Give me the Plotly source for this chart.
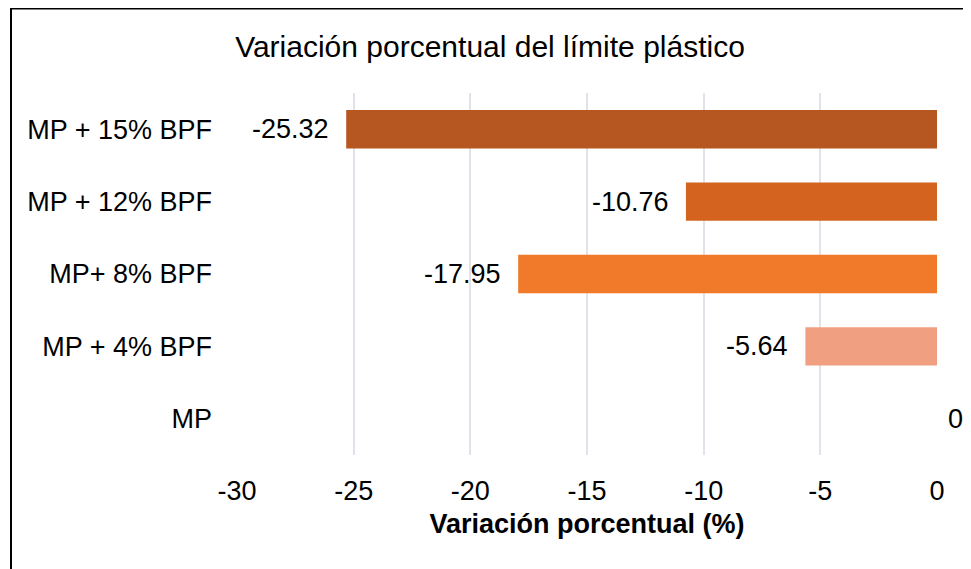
import plotly.graph_objects as go

# data (bottom to top)
mezclas = ["MP", "MP + 4% BPF", "MP+ 8% BPF", "MP + 12% BPF", "MP + 15% BPF"]
variacion = [0, -5.64, -17.95, -10.76, -25.32]
colores = ["#F0A080", "#F0A080", "#F07A2A", "#D3631F", "#B65620"]
ticks_x = [-30, -25, -20, -15, -10, -5, 0]

# page body adds an 8px margin, so figure coords = screenshot coords - 8
W, H = 963, 561
L, R, T, B = 229, 34, 85, 114
FONT = "Liberation Sans, Arial, sans-serif"

fig = go.Figure()

fig.add_trace(go.Bar(
    x=variacion,
    y=mezclas,
    orientation="h",
    marker=dict(color=colores, line=dict(width=0)),
    showlegend=False,
    hoverinfo="x+y",
))

# data labels
for m, v in zip(mezclas, variacion):
    neg = v < 0
    fig.add_annotation(
        x=v, y=m, xref="x", yref="y",
        text=f"{v:g}" if v == 0 else f"{v:.2f}",
        showarrow=False,
        xanchor="right" if neg else "left",
        xshift=-15 if neg else 9,
        font=dict(family=FONT, size=27, color="#000000"),
    )

# chart border (Excel chart area, cropped)
pw, ph = W - L - R, H - T - B
fig.add_shape(
    type="rect", xref="paper", yref="paper",
    x0=(3 - L) / pw, x1=3,
    y0=-3, y1=(H - B - 0.5) / ph,
    line=dict(color="#000000", width=2),
    fillcolor="rgba(0,0,0,0)",
    layer="above",
)

fig.update_layout(
    width=W, height=H,
    margin=dict(l=L, r=R, t=T, b=B, autoexpand=False),
    paper_bgcolor="white",
    plot_bgcolor="white",
    bargap=0.47,
    title=dict(
        text="Variación porcentual del límite plástico",
        x=482 / W, xanchor="center", xref="container",
        y=1 - 38 / H, yanchor="middle", yref="container",
        font=dict(family=FONT, size=30, color="#000000"),
    ),
    xaxis=dict(
        range=[-30, 0],
        tickvals=ticks_x,
        ticktext=[str(t) for t in ticks_x],
        showgrid=True, gridcolor="#E0E3EA", gridwidth=2,
        zeroline=False, showline=False,
        ticks="outside", ticklen=12, tickcolor="rgba(0,0,0,0)",
        tickfont=dict(family=FONT, size=27, color="#000000"),
        automargin=False,
        title=dict(
            text="<b>Variación porcentual (%)</b>",
            font=dict(family=FONT, size=27, color="#000000"),
            standoff=8,
        ),
    ),
    yaxis=dict(
        categoryorder="array", categoryarray=mezclas,
        showgrid=False, zeroline=False, showline=False,
        ticks="", ticklabelstandoff=24,
        automargin=False,
        tickfont=dict(family=FONT, size=27, color="#000000"),
    ),
)

fig.write_html("out.html")
